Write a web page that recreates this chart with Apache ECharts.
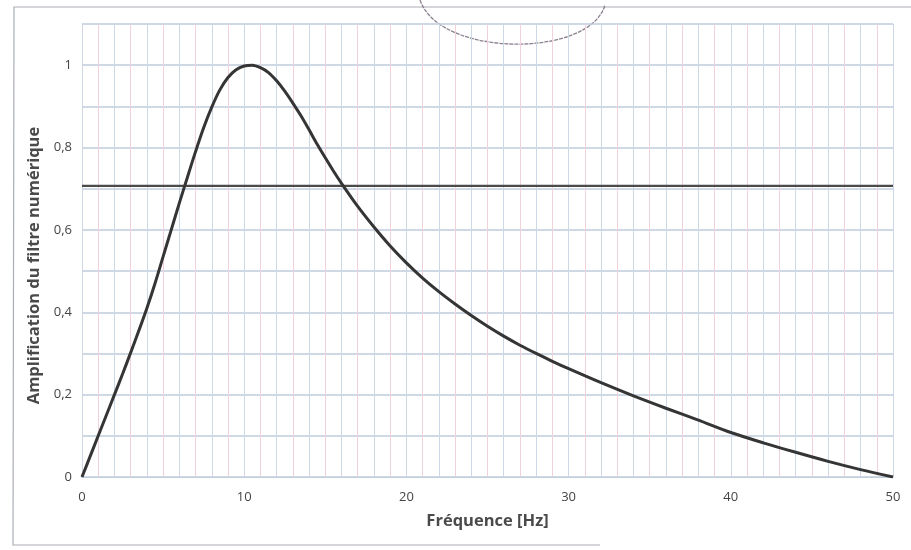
<!DOCTYPE html>
<html>
<head>
<meta charset="utf-8">
<title>Amplification du filtre numérique</title>
<script src="https://cdn.jsdelivr.net/npm/echarts@6/dist/echarts.min.js"></script>
<style>
  html, body { margin: 0; padding: 0; background: #ffffff; }
  #chart { width: 911px; height: 550px; }
</style>
</head>
<body>
<div id="chart"></div>
<script>
// Frequency samples (Hz) and gain of the digital filter
const freqHz = [0, 0.5, 1, 1.5, 2, 2.5, 3, 3.5, 4, 4.5, 5, 5.5, 6, 6.5, 7, 7.5, 8, 8.5, 9, 9.5,
  10, 10.5, 11, 11.5, 12, 12.5, 13, 13.5, 14, 14.5, 15, 15.5, 16,
  17, 18, 19, 20, 21, 22, 23, 24, 25, 26, 27, 28, 29, 30,
  32, 34, 36, 38, 40, 42, 44, 46, 48, 50];
const gain = [0, 0.05, 0.1, 0.15, 0.2, 0.25, 0.302, 0.355, 0.41, 0.47, 0.535, 0.6, 0.665, 0.728, 0.79, 0.848, 0.898, 0.94, 0.97, 0.989,
  0.998, 1.0, 0.994, 0.982, 0.962, 0.937, 0.908, 0.877, 0.843, 0.808, 0.775, 0.743, 0.713,
  0.657, 0.607, 0.561, 0.52, 0.483, 0.45, 0.42, 0.392, 0.366, 0.342, 0.32, 0.3, 0.281, 0.263,
  0.229, 0.197, 0.167, 0.138, 0.108, 0.083, 0.06, 0.038, 0.018, 0];

// -3 dB reference level (1/sqrt(2))
const cutoffLevel = 0.707;
const cutoffSpan = [0, 50];

const xTickLabels = [0, 10, 20, 30, 40, 50];
const yTickLabels = [0, 0.2, 0.4, 0.6, 0.8, 1];

const chart = echarts.init(document.getElementById('chart'), null, { renderer: 'canvas' });

const fontFamily = '"Open Sans", "Liberation Sans", Arial, sans-serif';
const labelFont = { fontFamily: fontFamily, fontSize: 13, color: '#444' };
const titleFont = { fontFamily: fontFamily, fontSize: 16.5, fontWeight: 'bold', color: '#4a4a4a' };

chart.setOption({
  animation: false,
  backgroundColor: '#ffffff',
  grid: { left: 82, right: 18, top: 24, bottom: 73, containLabel: false },
  xAxis: {
    type: 'value',
    min: 0,
    max: 50,
    interval: 1,
    name: 'Fréquence [Hz]',
    nameLocation: 'middle',
    nameGap: 36,
    nameTextStyle: titleFont,
    axisLine: { show: true, lineStyle: { color: '#c3cedc', width: 1.2 } },
    axisTick: { show: false },
    axisLabel: Object.assign({
      margin: 14,
      formatter: v => (xTickLabels.indexOf(v) >= 0 ? String(v) : '')
    }, labelFont),
    splitLine: { show: true, lineStyle: { color: ['#cdd8e5', '#f0d3da'], width: 1 } }
  },
  yAxis: {
    type: 'value',
    min: 0,
    max: 1.1,
    interval: 0.1,
    name: 'Amplification du filtre numérique',
    nameLocation: 'middle',
    nameGap: 33,
    nameTextStyle: Object.assign({ padding: [0, 0, 0, -30] }, titleFont),
    axisLine: { show: true, lineStyle: { color: '#cfd7e2', width: 1 } },
    axisTick: { show: false },
    axisLabel: Object.assign({
      margin: 10,
      formatter: v => {
        const r = Math.round(v * 10) / 10;
        return yTickLabels.some(t => Math.abs(t - r) < 1e-6) ? String(r).replace('.', ',') : '';
      }
    }, labelFont),
    splitLine: { show: true, lineStyle: { color: '#bfcbdc', width: 1.5 } }
  },
  series: [
    {
      name: 'Gain',
      type: 'line',
      data: freqHz.map((f, i) => [f, gain[i]]),
      smooth: 0.3,
      showSymbol: false,
      lineStyle: { color: '#353535', width: 3 },
      z: 3
    },
    {
      name: '-3 dB',
      type: 'line',
      data: cutoffSpan.map(f => [f, cutoffLevel]),
      showSymbol: false,
      lineStyle: { color: '#4a4a4a', width: 2.2 },
      z: 2
    }
  ],
  graphic: [
    // scanned page frame
    { type: 'polyline', silent: true, shape: { points: [[912, 7], [14, 7], [13, 545], [600, 545]] },
      style: { stroke: '#a9aeb6', lineWidth: 1.2, fill: null } },
    // hand-drawn pencil arc above the plot
    { type: 'bezierCurve', silent: true,
      shape: { x1: 420, y1: 0, cpx1: 440, cpy1: 58, cpx2: 590, cpy2: 58, x2: 605, y2: 5 },
      style: { stroke: '#8c8290', lineWidth: 1.3, fill: null, lineDash: [4, 1] } }
  ]
});
</script>
</body>
</html>
